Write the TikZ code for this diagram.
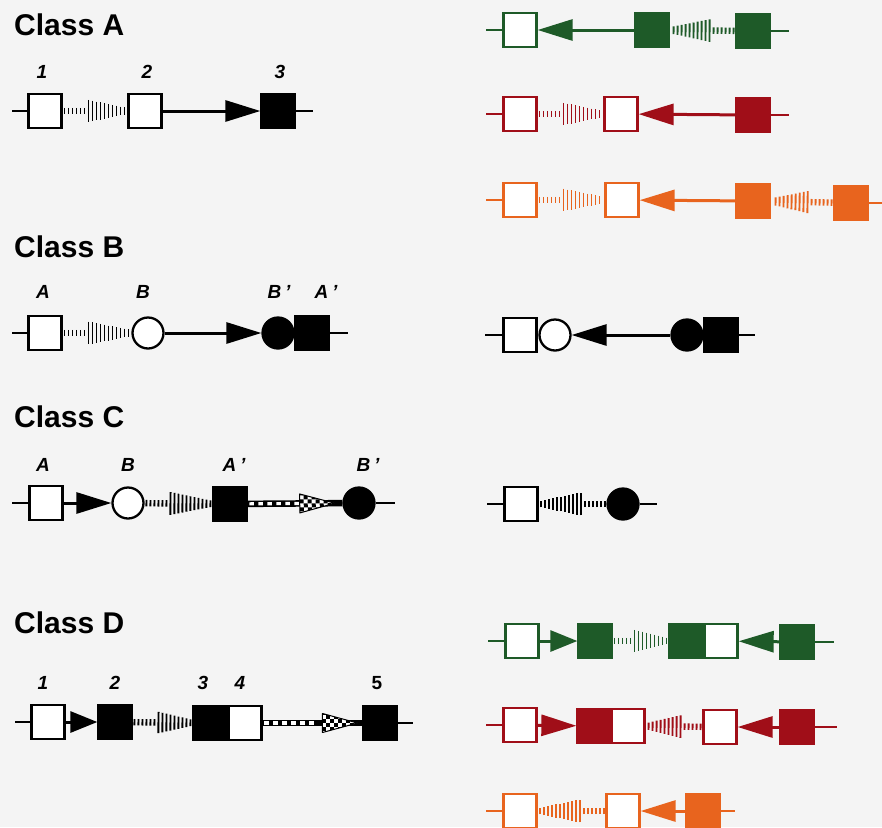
\documentclass[tikz,border=0pt]{standalone}
\usepackage{fontspec}
\setmainfont{Liberation Sans}
\usetikzlibrary{arrows.meta,decorations.markings}
\definecolor{bg}{HTML}{F4F4F4}
\definecolor{dgreen}{HTML}{1E5A28}
\definecolor{dred}{HTML}{A00E18}
\definecolor{orng}{HTML}{E8641E}
\newcommand\ckhead{%
  \fill[white] (0,-9.5) -- (35,0) -- (0,9.5) -- cycle;
  \begin{scope}
    \clip (0,-9.5) -- (35,0) -- (0,9.5) -- cycle;
    \foreach \i in {0,...,8}{\foreach \j in {-3,...,2}{\ifodd\numexpr\i+\j+10\relax\fill[black] (\i*4,\j*4) rectangle ++(4,4);\fi}}
  \end{scope}
  \draw[black,line width=1pt,line join=round] (0,-9.5) -- (35,0) -- (0,9.5) -- cycle;
}
\tikzset{
  wbox/.style={rectangle, draw=#1, fill=white, line width=2.3pt, minimum width=33pt, minimum height=34pt, inner sep=0pt},
  wbox/.default=black,
  fbox/.style={rectangle, draw=#1, fill=#1, line width=2.3pt, minimum width=33pt, minimum height=34pt, inner sep=0pt},
  fbox/.default=black,
  wcirc/.style={circle, draw=#1, fill=white, line width=2.3pt, minimum size=31pt, inner sep=0pt},
  wcirc/.default=black,
  fcirc/.style={circle, draw=#1, fill=#1, line width=2.3pt, minimum size=31pt, inner sep=0pt},
  fcirc/.default=black,
  stem/.style={line width=2.5pt},
  conn/.style={line width=3pt},
  tipL/.style={-{Triangle[length=35pt,width=21pt]}},
  tipS/.style={-{Triangle[length=27pt,width=21pt]}},
  stripe/.style={decorate, decoration={markings,
    mark=between positions 1.8pt and -1pt step 4pt with {
      \pgfmathsetmacro\stripeT{\pgfkeysvalueof{/pgf/decoration/mark info/distance from start}/\pgfdecoratedpathlength}
      \pgfmathsetmacro\stripeH{\stripeT<0.37 ? 3.2 : 11.5-(\stripeT-0.37)/0.63*8.5}
      \draw[line width=1.9pt, draw=#1] (0,-\stripeH) -- (0,\stripeH);
    }}},
  stripe/.default=black,
  chainc/.style={draw, line width=6.5pt, postaction={decorate, decoration={markings,
    mark=between positions 4pt and 0.52 step 9pt with {\fill[white] (-2.2,-1.6) rectangle (2.2,1.6);},
    mark=at position #1 with {\ckhead}}}},
  header/.style={anchor=base west, inner sep=0pt, font=\fontsize{30}{30}\selectfont\bfseries},
  lbl/.style={anchor=center, inner sep=0pt, font=\fontsize{19}{19}\selectfont\bfseries\itshape},
  lblu/.style={anchor=center, inner sep=0pt, font=\fontsize{19}{19}\selectfont\bfseries}
}
\begin{document}
\begin{tikzpicture}[x=1pt,y=-1pt]
\useasboundingbox (0,0) rectangle (882,827);
\fill[bg] (0,0) rectangle (882,827);

% ---------- headers ----------
\node[header] (hA) at (14,35) {Class A};
\node[header] (hB) at (14,257) {Class B};
\node[header] (hC) at (14,427) {Class C};
\node[header] (hD) at (14,633) {Class D};

% ---------- Class A ----------
\node[lbl] (lA1) at (42,72) {1};
\node[lbl] (lA2) at (147,72) {2};
\node[lbl] (lA3) at (280,72) {3};
\coordinate (a0) at (12,111);
\node[wbox] (a1) at (45,111) {};
\node[wbox] (a2) at (145,111) {};
\node[fbox] (a3) at (278,111) {};
\coordinate (a4) at (313,111);
\draw[stem] (a0) -- (a1);
\path[stripe] (a1) -- (a2);
\draw[conn,tipL] (a2) -- (a3);
\draw[stem] (a3) -- (a4);

% green row
\coordinate (g0) at (486,30);
\node[wbox=dgreen] (g1) at (520,30) {};
\node[fbox=dgreen] (g2) at (652,30) {};
\node[fbox=dgreen] (g3) at (753,31) {};
\coordinate (g4) at (789,31);
\draw[stem,dgreen] (g0) -- (g1);
\draw[conn,tipL,dgreen] (g2) -- (g1);
\path[stripe=dgreen] (g3) -- (g2);
\draw[stem,dgreen] (g3) -- (g4);

% red row
\coordinate (r0) at (486,114);
\node[wbox=dred] (r1) at (520,114) {};
\node[wbox=dred] (r2) at (621,114) {};
\node[fbox=dred] (r3) at (753,115) {};
\coordinate (r4) at (789,115);
\draw[stem,dred] (r0) -- (r1);
\path[stripe=dred] (r1) -- (r2);
\draw[conn,tipL,dred] (r3) -- (r2);
\draw[stem,dred] (r3) -- (r4);

% orange row
\coordinate (o0) at (486,200);
\node[wbox=orng] (o1) at (520,200) {};
\node[wbox=orng] (o2) at (622,200) {};
\node[fbox=orng] (o3) at (753,201) {};
\node[fbox=orng] (o4) at (851,203) {};
\coordinate (o5) at (882,203);
\draw[stem,orng] (o0) -- (o1);
\path[stripe=orng] (o1) -- (o2);
\draw[conn,tipL,orng] (o3) -- (o2);
\path[stripe=orng] (o4) -- (o3);
\draw[stem,orng] (o4) -- (o5);

% ---------- Class B ----------
\node[lbl] (lBA) at (43,292) {A};
\node[lbl] (lBB) at (143,292) {B};
\node[lbl] (lBB2) at (279,292) {B\hspace{4pt}'};
\node[lbl] (lBA2) at (326,292) {A\hspace{4pt}'};
\coordinate (b0) at (12,333);
\node[wbox] (bA) at (45,333) {};
\node[wcirc] (bB) at (148,333) {};
\node[fcirc] (bB2) at (278,333) {};
\node[fbox] (bA2) at (312,333) {};
\coordinate (b5) at (348,333);
\draw[stem] (b0) -- (bA);
\path[stripe] (bA) -- (bB);
\draw[conn,tipL] (bB) -- (bB2);
\draw[stem] (bA2) -- (b5);

% right B
\coordinate (rb0) at (485,335);
\node[wbox] (rbA) at (520,335) {};
\node[wcirc] (rbB) at (555,335) {};
\node[fcirc] (rbB2) at (687,335) {};
\node[fbox] (rbA2) at (721,335) {};
\coordinate (rb5) at (755,335);
\draw[stem] (rb0) -- (rbA);
\draw[conn,tipL] (rbB2) -- (rbB);
\draw[stem] (rbA2) -- (rb5);

% ---------- Class C ----------
\node[lbl] (lCA) at (43,465) {A};
\node[lbl] (lCB) at (128,465) {B};
\node[lbl] (lCA2) at (234,465) {A\hspace{4pt}'};
\node[lbl] (lCB2) at (368,465) {B\hspace{4pt}'};
\coordinate (c0) at (12,503);
\node[wbox] (cA) at (46,503) {};
\node[wcirc] (cB) at (128,503) {};
\node[fbox] (cA2) at (230,504) {};
\node[fcirc] (cB2) at (359,503) {};
\coordinate (c5) at (395,503);
\draw[stem] (c0) -- (cA);
\draw[conn,tipL] (cA) -- (cB);
\path[stripe] (cB) -- (cA2);
\path[chainc=0.55] (cA2) -- (cB2);
\draw[stem] (cB2) -- (c5);

% right C
\coordinate (rc0) at (487,504);
\node[wbox] (rcA) at (521,504) {};
\node[fcirc] (rcB) at (623,504) {};
\coordinate (rc5) at (657,504);
\draw[stem] (rc0) -- (rcA);
\path[stripe] (rcB) -- (rcA);
\draw[stem] (rcB) -- (rc5);

% ---------- Class D ----------
\node[lbl] (lD1) at (43,683) {1};
\node[lbl] (lD2) at (115,683) {2};
\node[lbl] (lD3) at (203,683) {3};
\node[lbl] (lD4) at (240,683) {4};
\node[lblu] (lD5) at (377,683) {5};
\coordinate (d0) at (15,722);
\node[wbox] (d1) at (48,722) {};
\node[fbox] (d2) at (115,722) {};
\node[fbox] (d3) at (210,723) {};
\node[wbox] (d4) at (245,723) {};
\node[fbox] (d5) at (380,723) {};
\coordinate (d6) at (413,723);
\draw[stem] (d0) -- (d1);
\draw[conn,tipS] (d1) -- (d2);
\path[stripe] (d2) -- (d3);
\path[chainc=0.6] (d4) -- (d5);
\draw[stem] (d5) -- (d6);

% green D
\coordinate (gd0) at (488,641);
\node[wbox=dgreen] (gd1) at (522,641) {};
\node[fbox=dgreen] (gd2) at (595,641) {};
\node[fbox=dgreen] (gd3) at (686,641) {};
\node[wbox=dgreen] (gd4) at (721,641) {};
\node[fbox=dgreen] (gd5) at (797,642) {};
\coordinate (gd6) at (834,642);
\draw[stem,dgreen] (gd0) -- (gd1);
\draw[conn,tipS,dgreen] (gd1) -- (gd2);
\path[stripe=dgreen] (gd2) -- (gd3);
\draw[conn,tipL,dgreen] (gd5) -- (gd4);
\draw[stem,dgreen] (gd5) -- (gd6);

% red D
\coordinate (rd0) at (486,725);
\node[wbox=dred] (rd1) at (520,725) {};
\node[fbox=dred] (rd2) at (594,726) {};
\node[wbox=dred] (rd3) at (628,726) {};
\node[wbox=dred] (rd4) at (720,727) {};
\node[fbox=dred] (rd5) at (797,727) {};
\coordinate (rd6) at (837,727);
\draw[stem,dred] (rd0) -- (rd1);
\draw[conn,tipL,dred] (rd1) -- (rd2);
\path[stripe=dred] (rd4) -- (rd3);
\draw[conn,tipL,dred] (rd5) -- (rd4);
\draw[stem,dred] (rd5) -- (rd6);

% orange D
\coordinate (od0) at (486,811);
\node[wbox=orng] (od1) at (520,811) {};
\node[wbox=orng] (od2) at (623,811) {};
\node[fbox=orng] (od3) at (703,811) {};
\coordinate (od4) at (735,811);
\draw[stem,orng] (od0) -- (od1);
\path[stripe=orng] (od2) -- (od1);
\draw[conn,tipL,orng] (od3) -- (od2);
\draw[stem,orng] (od3) -- (od4);
\end{tikzpicture}
\end{document}
